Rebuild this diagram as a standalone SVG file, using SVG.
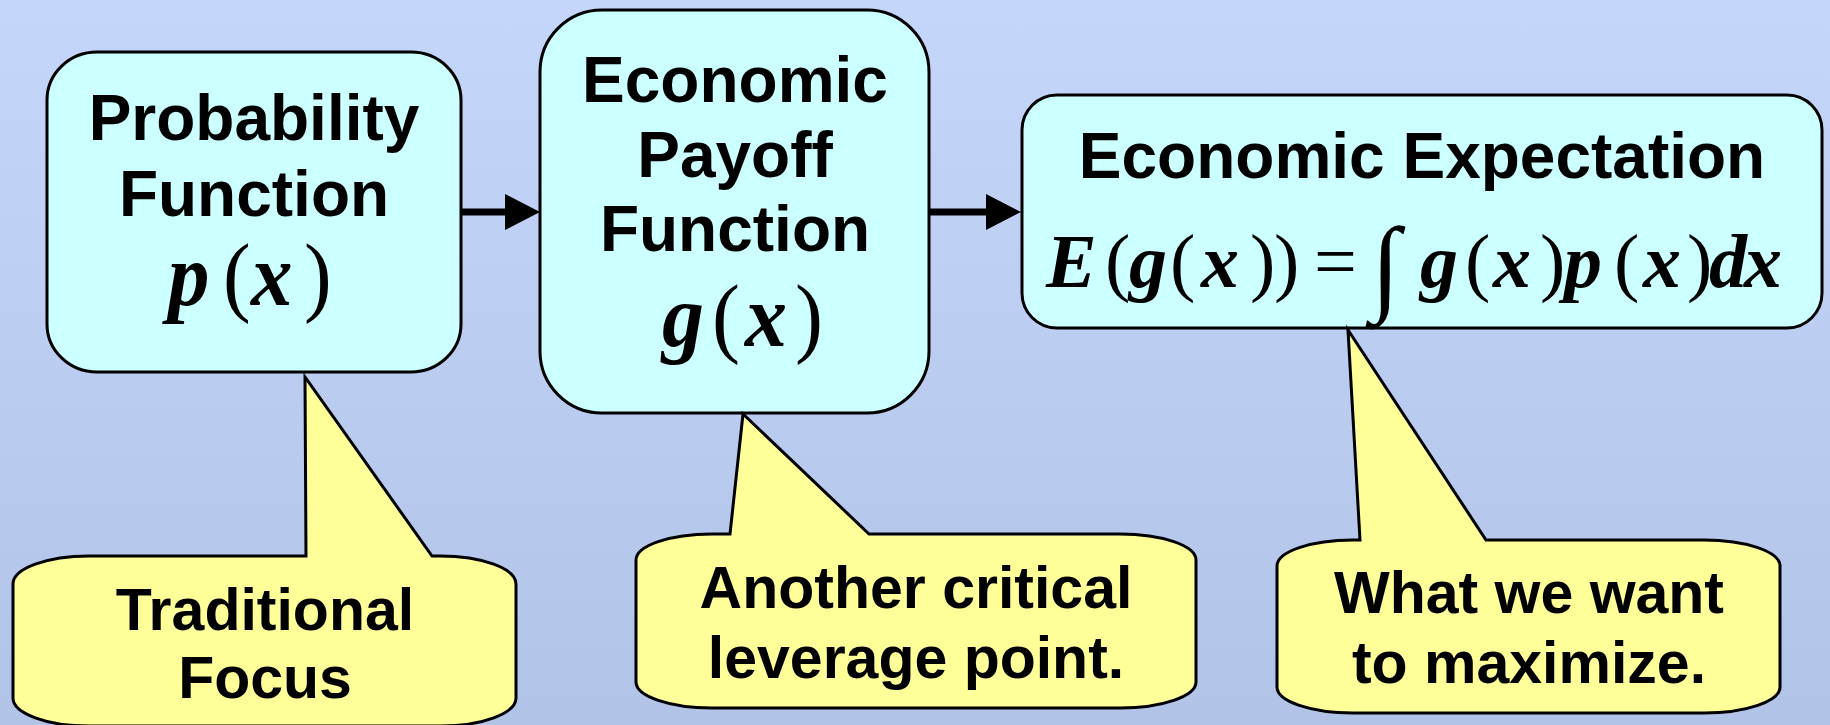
<svg xmlns="http://www.w3.org/2000/svg" width="1830" height="725" viewBox="0 0 1830 725">
  <defs>
    <linearGradient id="bg" x1="0" y1="0" x2="0" y2="1">
      <stop offset="0" stop-color="#C4D6FA"/>
      <stop offset="1" stop-color="#B2C3E8"/>
    </linearGradient>
    <style>
      .box { fill: #CCFFFF; stroke: #000; stroke-width: 3; }
      .callout { fill: #FFFF99; stroke: #000; stroke-width: 3; stroke-linejoin: miter; }
      .title { font-family: "Liberation Sans", Arial, sans-serif; font-weight: bold; font-size: 64px; fill: #000; text-anchor: middle; }
      .note { font-family: "Liberation Sans", Arial, sans-serif; font-weight: bold; font-size: 59px; fill: #000; text-anchor: middle; }
      .math { font-family: "Liberation Serif", "Times New Roman", serif; fill: #000; }
      .v { font-style: italic; font-weight: bold; }
      .p { font-style: normal; font-weight: normal; }
      .conn { stroke: #000; stroke-width: 7; fill: none; }
      .head { fill: #000; }
    </style>
  </defs>

  <rect x="0" y="0" width="1830" height="725" fill="url(#bg)"/>

  <!-- connectors between the three stages -->
  <g id="connectors">
    <line class="conn" x1="461" y1="212" x2="508" y2="212"/>
    <path class="head" d="M505,194 L540,212 L505,230 Z"/>
    <line class="conn" x1="929" y1="212" x2="989" y2="212"/>
    <path class="head" d="M986,194 L1021,212 L986,230 Z"/>
  </g>

  <!-- stage 1 -->
  <g id="probability">
    <rect class="box" x="47" y="52" width="414" height="320" rx="50" ry="48"/>
    <text class="title" x="254" y="140">Probability</text>
    <text class="title" x="254" y="216">Function</text>
    <g transform="translate(0,305) scale(1,1.07) translate(0,-305)">
      <text class="math" font-size="83" y="305">
        <tspan class="v" x="168">p</tspan><tspan class="p" x="223">(</tspan><tspan class="v" x="251">x</tspan><tspan class="p" x="304">)</tspan>
      </text>
    </g>
  </g>

  <!-- stage 2 -->
  <g id="payoff">
    <rect class="box" x="540" y="10" width="389" height="403" rx="62" ry="62"/>
    <text class="title" x="735" y="102">Economic</text>
    <text class="title" x="735" y="177">Payoff</text>
    <text class="title" x="735" y="251">Function</text>
    <g transform="translate(0,346) scale(1,1.05) translate(0,-346)">
      <text class="math" font-size="84" y="346">
        <tspan class="v" x="662">g</tspan><tspan class="p" x="712">(</tspan><tspan class="v" x="745">x</tspan><tspan class="p" x="795">)</tspan>
      </text>
    </g>
  </g>

  <!-- stage 3 -->
  <g id="expectation">
    <rect class="box" x="1022" y="95" width="800" height="233" rx="35" ry="35"/>
    <text class="title" x="1422" y="178">Economic Expectation</text>
    <text class="math" font-size="76" y="287">
      <tspan class="v" x="1046">E</tspan><tspan class="p" x="1105">(</tspan><tspan class="v" x="1129">g</tspan><tspan class="p" x="1170">(</tspan><tspan class="v" x="1201">x</tspan><tspan class="p" x="1250">)</tspan><tspan class="p" x="1274">)</tspan><tspan class="p" x="1314">=</tspan><tspan class="v" x="1420">g</tspan><tspan class="p" x="1465">(</tspan><tspan class="v" x="1493">x</tspan><tspan class="p" x="1540">)</tspan><tspan class="v" x="1564">p</tspan><tspan class="p" x="1614">(</tspan><tspan class="v" x="1643">x</tspan><tspan class="p" x="1687">)</tspan><tspan class="v" x="1709">d</tspan><tspan class="v" x="1744">x</tspan>
    </text>
    <text class="math p" font-size="106" x="1371" y="301">∫</text>
  </g>

  <!-- callout under stage 1 -->
  <g id="note-traditional">
    <path class="callout" d="M306,556 L305,377 L432,556 H440 A76,28 0 0 1 516,584 V698 A76,28 0 0 1 440,726 H89 A76,28 0 0 1 13,698 V584 A76,28 0 0 1 89,556 Z"/>
    <text class="note" x="265" y="630">Traditional</text>
    <text class="note" x="265" y="698">Focus</text>
  </g>

  <!-- callout under stage 2 -->
  <g id="note-leverage">
    <path class="callout" d="M730,534 L743,414 L869,534 H1120 A76,26 0 0 1 1196,560 V682 A76,26 0 0 1 1120,708 H712 A76,26 0 0 1 636,682 V560 A76,26 0 0 1 712,534 Z"/>
    <text class="note" x="916" y="608">Another critical</text>
    <text class="note" x="916" y="678">leverage point.</text>
  </g>

  <!-- callout under stage 3 -->
  <g id="note-maximize">
    <path class="callout" d="M1360,540 L1348,330 L1486,540 H1704 A76,26 0 0 1 1780,566 V687 A76,26 0 0 1 1704,713 H1353 A76,26 0 0 1 1277,687 V566 A76,26 0 0 1 1353,540 Z"/>
    <text class="note" x="1529" y="613">What we want</text>
    <text class="note" x="1529" y="683">to maximize.</text>
  </g>
</svg>
